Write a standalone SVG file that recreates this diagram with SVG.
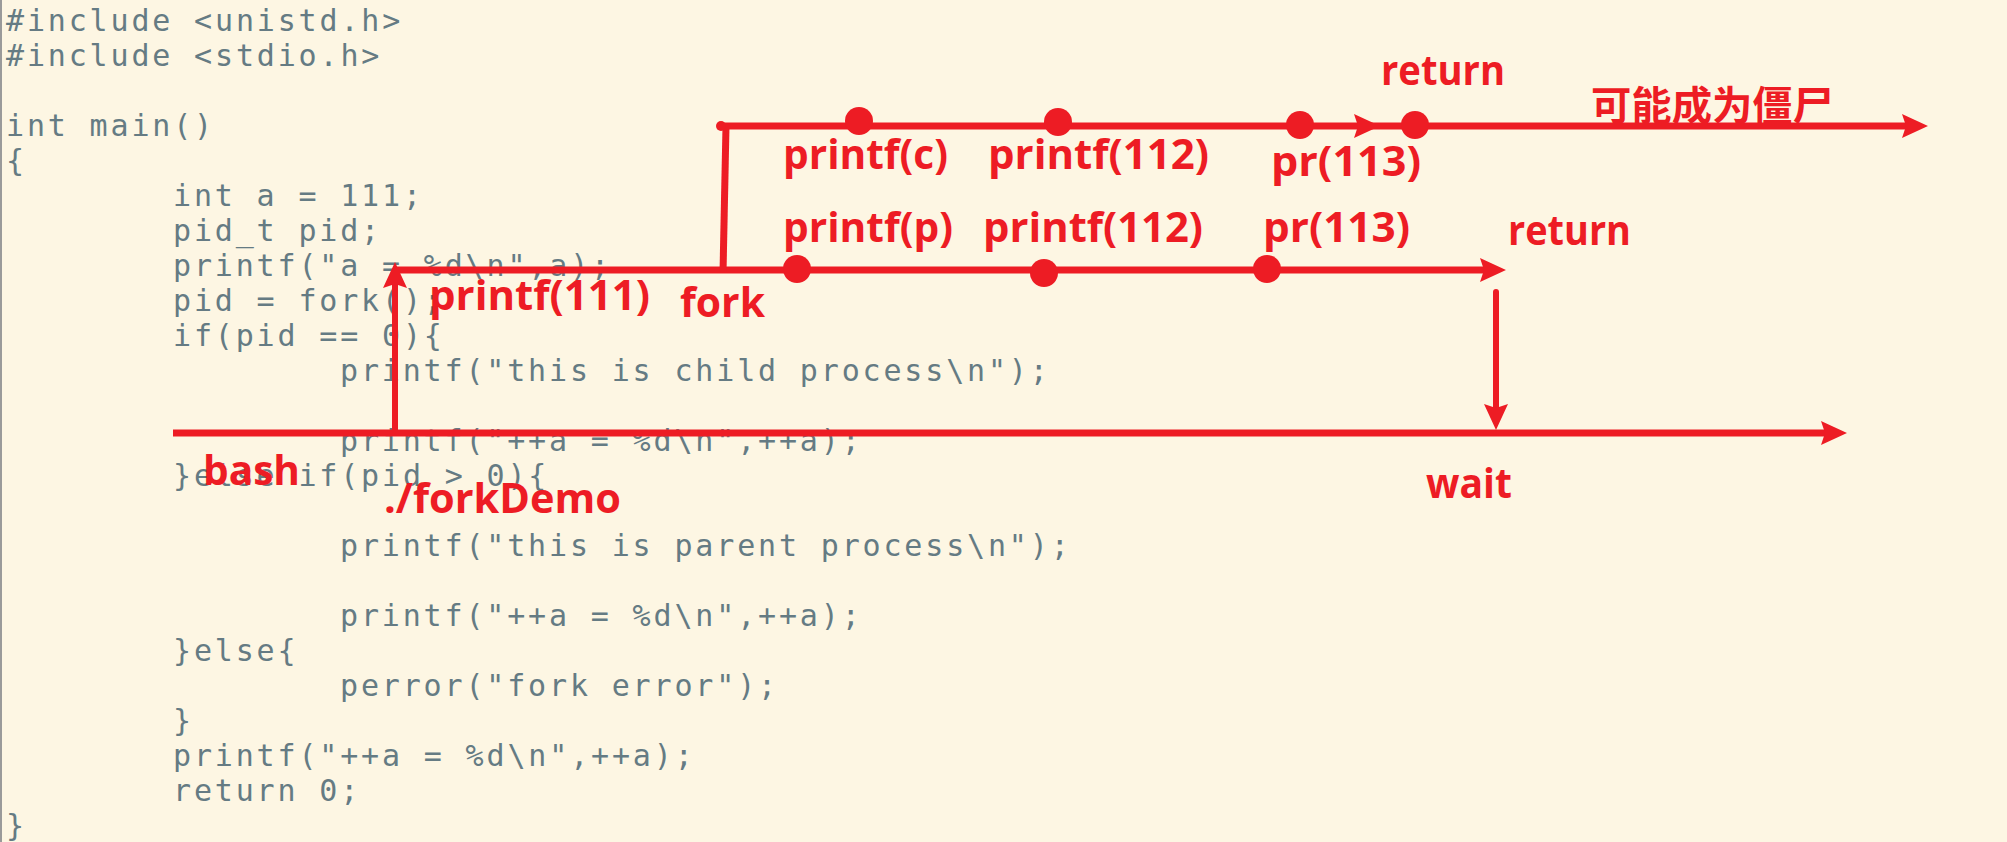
<svg xmlns="http://www.w3.org/2000/svg" width="2007" height="842" viewBox="0 0 2007 842">
<style>
.code{font-family:"DejaVu Sans Mono","Liberation Mono",monospace;font-size:30px;letter-spacing:2.84px;fill:#657b83}
.lbl{font-family:"Open Sans","Noto Sans CJK SC",sans-serif;font-weight:700;font-size:42px;fill:#ed1c24}
.cjk{font-family:"Noto Sans CJK SC","Open Sans",sans-serif;font-weight:700;font-size:40px;fill:#ed1c24}
.ln{stroke:#ed1c24;stroke-width:7;fill:none}
.thin{stroke:#ed1c24;stroke-width:6;fill:none}
.dot{fill:#ed1c24}
</style>
<defs>
<marker id="ah" markerUnits="userSpaceOnUse" markerWidth="30" markerHeight="26" refX="16" refY="12" orient="auto" overflow="visible">
<path d="M0,0 L26,12 L0,24 L4,12 z" fill="#ed1c24"/>
</marker>
</defs>
<rect x="0" y="0" width="2007" height="842" fill="#fdf6e3"/>
<line x1="1" y1="0" x2="1" y2="842" stroke="#9a9a9a" stroke-width="2"/>
<g id="code">
<text class="code" x="6" y="31">#include &lt;unistd.h&gt;</text>
<text class="code" x="6" y="66">#include &lt;stdio.h&gt;</text>
<text class="code" x="6" y="136">int main()</text>
<text class="code" x="6" y="171">{</text>
<text class="code" x="173" y="206">int a = 111;</text>
<text class="code" x="173" y="241">pid_t pid;</text>
<text class="code" x="173" y="276">printf("a = %d\n",a);</text>
<text class="code" x="173" y="311">pid = fork();</text>
<text class="code" x="173" y="346">if(pid == 0){</text>
<text class="code" x="340" y="381">printf("this is child process\n");</text>
<text class="code" x="340" y="451">printf("++a = %d\n",++a);</text>
<text class="code" x="173" y="486">}else if(pid &gt; 0){</text>
<text class="code" x="340" y="556">printf("this is parent process\n");</text>
<text class="code" x="340" y="626">printf("++a = %d\n",++a);</text>
<text class="code" x="173" y="661">}else{</text>
<text class="code" x="340" y="696">perror("fork error");</text>
<text class="code" x="173" y="731">}</text>
<text class="code" x="173" y="766">printf("++a = %d\n",++a);</text>
<text class="code" x="173" y="801">return 0;</text>
<text class="code" x="6" y="836">}</text>
</g>
<g id="connectors">
<path class="ln" d="M173,433 L1837,433" marker-end="url(#ah)"/>
<path class="thin" d="M395,433 L395,272" marker-end="url(#ah)"/>
<path class="ln" d="M395,270 L1496,270" marker-end="url(#ah)"/>
<path class="ln" d="M723,273 L726,126" stroke-width="8"/>
<path class="ln" d="M720,126 L1370,126" marker-end="url(#ah)"/>
<path class="ln" d="M1370,126 L1918,126" marker-end="url(#ah)"/>
<path class="thin" d="M1496,292 L1496,420" stroke-linecap="round" marker-end="url(#ah)"/>
<circle class="dot" cx="721" cy="126" r="5"/>
</g>
<g id="bash"><text class="lbl" x="203" y="485" textLength="97" lengthAdjust="spacingAndGlyphs">bash</text></g>
<g id="forkDemo"><text class="lbl" x="384" y="513" textLength="237" lengthAdjust="spacingAndGlyphs">./forkDemo</text></g>
<g id="printf111"><text class="lbl" x="429" y="310" textLength="221" lengthAdjust="spacingAndGlyphs">printf(111)</text></g>
<g id="fork"><text class="lbl" x="680" y="317" textLength="85" lengthAdjust="spacingAndGlyphs">fork</text></g>
<g id="printf-c"><circle class="dot" cx="859" cy="121" r="14"/><text class="lbl" x="783" y="169" textLength="165" lengthAdjust="spacingAndGlyphs">printf(c)</text></g>
<g id="printf112-c"><circle class="dot" cx="1058" cy="122" r="14"/><text class="lbl" x="988" y="169" textLength="221" lengthAdjust="spacingAndGlyphs">printf(112)</text></g>
<g id="pr113-c"><circle class="dot" cx="1300" cy="125" r="14"/><text class="lbl" x="1271" y="176" textLength="150" lengthAdjust="spacingAndGlyphs">pr(113)</text></g>
<g id="return-c"><circle class="dot" cx="1415" cy="125" r="14"/><text class="lbl" x="1381" y="85" textLength="124" lengthAdjust="spacingAndGlyphs">return</text></g>
<g id="zombie"><text class="cjk" x="1591" y="120" textLength="242" lengthAdjust="spacingAndGlyphs">可能成为僵尸</text></g>
<g id="printf-p"><circle class="dot" cx="797" cy="269" r="14"/><text class="lbl" x="783" y="242" textLength="170" lengthAdjust="spacingAndGlyphs">printf(p)</text></g>
<g id="printf112-p"><circle class="dot" cx="1044" cy="273" r="14"/><text class="lbl" x="983" y="242" textLength="220" lengthAdjust="spacingAndGlyphs">printf(112)</text></g>
<g id="pr113-p"><circle class="dot" cx="1267" cy="269" r="14"/><text class="lbl" x="1263" y="242" textLength="147" lengthAdjust="spacingAndGlyphs">pr(113)</text></g>
<g id="return-p"><text class="lbl" x="1508" y="245" textLength="123" lengthAdjust="spacingAndGlyphs">return</text></g>
<g id="wait"><text class="lbl" x="1426" y="498" textLength="86" lengthAdjust="spacingAndGlyphs">wait</text></g>
</svg>
